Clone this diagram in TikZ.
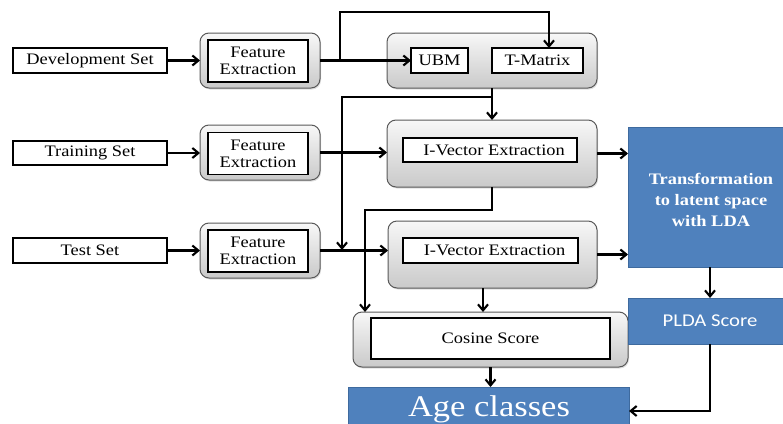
\documentclass[tikz,border=0pt]{standalone}
\usepackage{fontspec}
\setmainfont{Liberation Serif}[FakeStretch=1.15]
\newfontfamily\calib{Carlito}[FakeStretch=1.15]
\usetikzlibrary{arrows.meta,shadows}

\definecolor{boxblue}{HTML}{4F81BD}
\definecolor{boxblueedge}{HTML}{3E6A9E}

\begin{document}
\begin{tikzpicture}[x=1pt,y=-1pt,
  every node/.style={inner sep=0pt, outer sep=0pt},
  conn/.style={line width=2.1pt, -{Straight Barb[length=6pt,width=10pt]}},
  txt/.style={font=\fontsize{16}{17}\selectfont, align=center},
  setbox/.style={txt, draw, line width=1.7pt, fill=white},
  panel/.style={draw=gray!70!black, line width=1pt, rounded corners=9pt,
    top color=gray!6, bottom color=gray!42,
    drop shadow={opacity=0.25, shadow xshift=1pt, shadow yshift=-1.5pt}},
  inbox/.style={txt, draw, line width=1.9pt, fill=white},
  bluebox/.style={draw=boxblueedge, line width=0.8pt, fill=boxblue, text=white, align=center},
]
\clip (0,0) rectangle (783,423);

% input sets
\node[setbox, minimum width=154pt, minimum height=25pt] (dev) at (90,60.5) {Development Set};
\node[setbox, minimum width=154pt, minimum height=24pt] (train) at (90,153) {Training Set};
\node[setbox, minimum width=154pt, minimum height=25pt] (test) at (90,250.5) {Test Set};

% feature extraction stages
\node[panel, minimum width=120pt, minimum height=55pt] (fe1) at (260,60.5) {};
\node[inbox, minimum width=100pt, minimum height=42pt] (fe1in) at (258,61) {Feature\\Extraction};
\node[panel, minimum width=120pt, minimum height=55pt] (fe2) at (260,152.5) {};
\node[inbox, minimum width=100pt, minimum height=42pt] (fe2in) at (258,153.5) {Feature\\Extraction};
\node[panel, minimum width=120pt, minimum height=55pt] (fe3) at (260,250.5) {};
\node[inbox, minimum width=100pt, minimum height=42pt] (fe3in) at (258,251) {Feature\\Extraction};

% UBM and total variability matrix
\node[panel, minimum width=210pt, minimum height=55pt] (ubmbox) at (492,60.5) {};
\node[inbox, minimum width=57pt, minimum height=25pt] (ubm) at (439.5,60.5) {UBM};
\node[inbox, minimum width=91pt, minimum height=25pt] (tmat) at (537.5,60.5) {T-Matrix};

% i-vector extraction
\node[panel, minimum width=210pt, minimum height=67pt] (iv1) at (492,153.5) {};
\node[inbox, minimum width=174pt, minimum height=24pt] (iv1in) at (490,150) {\hspace{8pt}I-Vector Extraction};
\node[panel, minimum width=209pt, minimum height=67pt] (iv2) at (492.5,254.5) {};
\node[inbox, minimum width=175pt, minimum height=25pt] (iv2in) at (490.5,250.5) {\hspace{8pt}I-Vector Extraction};

% cosine scoring
\node[panel, minimum width=275pt, minimum height=55pt] (cos) at (490.5,339.5) {};
\node[inbox, minimum width=239pt, minimum height=41pt] (cosin) at (490.5,338.5) {Cosine Score};

% LDA / PLDA back end
\node[bluebox, minimum width=164pt, minimum height=140pt] (trans) at (710,197) {};
\node[text=white, align=center, font=\fontsize{16}{21}\selectfont\bfseries] (transtxt)
  at (711,200) {Transformation\\to latent space\\with LDA};
\node[bluebox, minimum width=164pt, minimum height=46pt,
  font=\calib\fontsize{18}{20}\selectfont] (plda) at (710,321) {PLDA Score};

% output
\node[bluebox, minimum width=281pt, minimum height=48pt] (age) at (488.5,411) {};
\node[anchor=base, text=white, font=\fontsize{30}{30}\selectfont] (agetxt) at (489,416) {Age classes};

% junction points of the wiring
\coordinate (b1) at (340,60.5);
\coordinate (top1) at (340,12);
\coordinate (top2) at (549,12);
\coordinate (j1) at (492,97);
\coordinate (j2) at (342,97);
\coordinate (j3) at (342,250);
\coordinate (k1) at (492,210);
\coordinate (k2) at (365,210);
\coordinate (x483) at (483,0);

% connectors
\draw[conn] (dev) -- (fe1);
\draw[conn] (fe1.east) -- (ubm.west);
\draw[conn] (b1) -- (top1) -- (top2) -- (top2 |- tmat.north);
\draw[conn] (ubmbox.south) -- (iv1.north);
\draw[conn] (j1) -- (j2) -- (j3);
\draw[conn] (train.east) -- (train.east -| fe2.west);
\draw[conn] (fe2.east) -- (fe2.east -| iv1.west);
\draw[conn] (iv1.east) -- (iv1.east -| trans.west);
\draw[conn] (test.east) -- (test.east -| fe3.west);
\draw[conn] (fe3.east) -- (fe3.east -| iv2.west);
\draw[conn] (iv2.east) -- (iv2.east -| trans.west);
\draw[conn] (iv1.south) -- (k1) -- (k2) -- (k2 |- cos.north);
\draw[conn] (iv2.south -| x483) -- (cos.north -| x483);
\draw[conn] (cos.south) -- (cos.south |- age.north);
\draw[conn] (trans.south) -- (plda.north);
\draw[conn] (plda.south) |- (age.east);
\end{tikzpicture}
\end{document}
